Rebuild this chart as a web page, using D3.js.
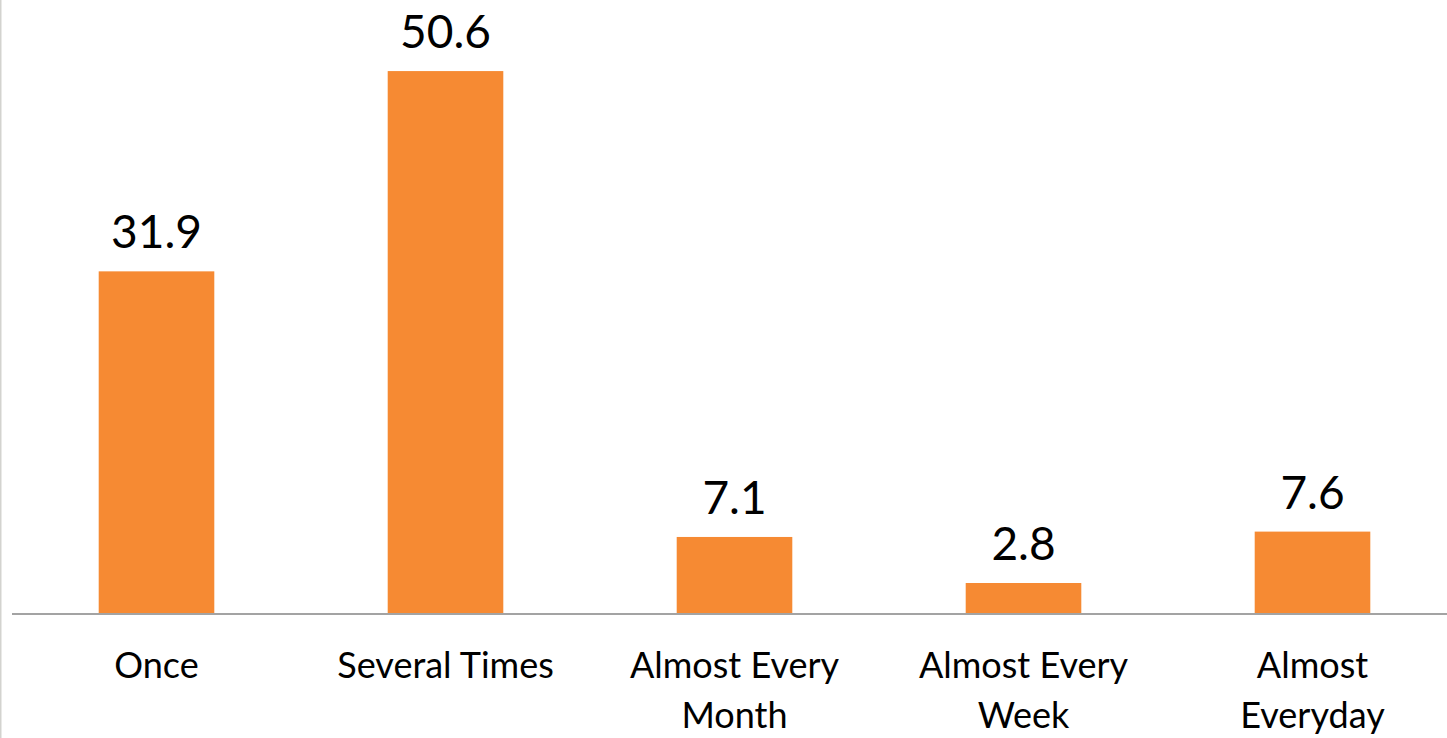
<!DOCTYPE html>
<html>
<head>
<meta charset="utf-8">
<script src="https://cdn.jsdelivr.net/npm/d3@7"></script>
<style>
  html, body { margin: 0; padding: 0; background: #fff; overflow: hidden; }
  #freq_bar { width: 1447px; height: 738px; }
  text { font-family: Lato, "Open Sans", sans-serif; fill: #000; }
</style>
</head>
<body>
<div id="freq_bar"></div>
<script>
const categories = ["Once", "Several Times", "Almost Every Month", "Almost Every Week", "Almost Everyday"];
const values = [31.9, 50.6, 7.1, 2.8, 7.6];

const width = 1447, height = 738;
const baseY = 613;

const svg = d3.select("#freq_bar")
            .append("svg")
            .attr("width", width)
            .attr("height", height);

// thin page border on the left
svg.append("line")
   .attr("x1", 0.75).attr("x2", 0.75)
   .attr("y1", 0).attr("y2", height)
   .attr("stroke", "#d3d3cf")
   .attr("stroke-width", 1.5);

const x = d3.scaleBand()
            .domain(categories)
            .range([12, 1457])
            .paddingInner(0.6)
            .paddingOuter(0.3);

const y = d3.scaleLinear()
            .domain([0, 60])
            .range([baseY, baseY - 10.71 * 60]);

const data = categories.map((c, i) => ({cat: c, value: values[i]}));

svg.selectAll("rect.bar")
   .data(data)
   .enter()
   .append("rect")
   .attr("class", "bar")
   .attr("x", d => x(d.cat))
   .attr("y", d => y(d.value))
   .attr("width", x.bandwidth())
   .attr("height", d => y(0) - y(d.value))
   .attr("fill", "#f68a33");

// baseline
svg.append("line")
   .attr("x1", 12).attr("x2", width)
   .attr("y1", baseY + 1).attr("y2", baseY + 1)
   .attr("stroke", "#a3a3a3")
   .attr("stroke-width", 2);

// value labels
svg.selectAll("text.val")
   .data(data)
   .enter()
   .append("text")
   .attr("class", "val")
   .attr("x", d => x(d.cat) + x.bandwidth() / 2)
   .attr("y", d => y(d.value) - 23)
   .attr("text-anchor", "middle")
   .style("font-size", "46px")
   .text(d => d.value.toFixed(1));

// category labels, wrapped to fit the band
const maxW = 245;
const cats = svg.selectAll("text.cat")
   .data(data)
   .enter()
   .append("text")
   .attr("class", "cat")
   .attr("text-anchor", "middle")
   .style("font-size", "36px")
   .attr("transform", d => `translate(${x(d.cat) + x.bandwidth() / 2},678)`);

cats.each(function(d) {
   const t = d3.select(this);
   const words = d.cat.split(" ");
   let lines = [], line = [];
   words.forEach(w => {
      line.push(w);
      t.text(line.join(" "));
      if (this.getComputedTextLength() > maxW && line.length > 1) {
         line.pop();
         lines.push(line.join(" "));
         line = [w];
      }
   });
   lines.push(line.join(" "));
   t.text(null);
   lines.forEach((l, i) => {
      t.append("tspan").attr("x", 0).attr("y", i * 50).text(l);
   });
});
</script>
</body>
</html>
